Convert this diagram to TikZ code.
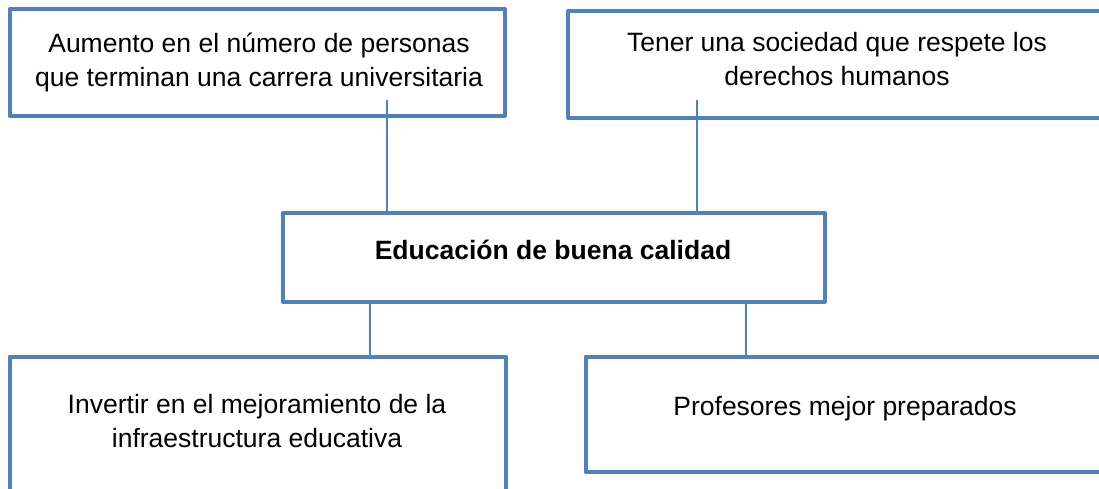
\documentclass[tikz,border=0pt]{standalone}
\usepackage{fontspec}
\setmainfont{Liberation Sans}
\definecolor{boxblue}{RGB}{79,129,189}
\begin{document}
\begin{tikzpicture}[x=1pt,y=-1pt,
  box/.style={draw=boxblue, line width=4pt, line join=round, rectangle, inner sep=0pt, fill=white},
  conn/.style={draw=boxblue, line width=1.6pt},
  txt/.style={font=\fontsize{26.5}{34}\selectfont, align=center, inner sep=0pt, anchor=base}]
\useasboundingbox (0,0) rectangle (1099,488);
\clip (0,0) rectangle (1099,488);
% connector reference points
\coordinate (p1) at (387,100);
\coordinate (p2) at (697,100);
\coordinate (p3) at (370,300);
\coordinate (p4) at (746,300);
% boxes
\node[box, minimum width=495.5pt, minimum height=106.5pt] (b1) at (257.25,62.25) {};
\node[box, minimum width=547pt, minimum height=107pt] (b2) at (841.5,64.5) {};
\node[box, minimum width=541.5pt, minimum height=88.5pt] (mid) at (553.75,257.25) {};
\node[box, minimum width=496pt, minimum height=160pt] (b3) at (257.5,436.5) {};
\node[box, minimum width=529.5pt, minimum height=115.5pt] (b4) at (850.25,414.25) {};
\draw[conn] (p1) -- (p1 |- mid.north);
\draw[conn] (p2) -- (p2 |- mid.north);
\draw[conn] (p3 |- mid.south) -- (p3 |- b3.north);
\draw[conn] (p4 |- mid.south) -- (p4 |- b4.north);
% texts (base anchor = baseline of last line)
\node[txt] (t1) at (259,86) {Aumento en el número de personas\\que terminan una carrera universitaria};
\node[txt] (t2) at (837,85) {Tener una sociedad que respete los\\derechos humanos};
\node[txt, font=\fontsize{26.5}{34}\selectfont\bfseries] (tm) at (553,259) {Educación de buena calidad};
\node[txt] (t3) at (257,447) {Invertir en el mejoramiento de la\\infraestructura educativa};
\node[txt] (t4) at (845,415) {Profesores mejor preparados};
\end{tikzpicture}
\end{document}
